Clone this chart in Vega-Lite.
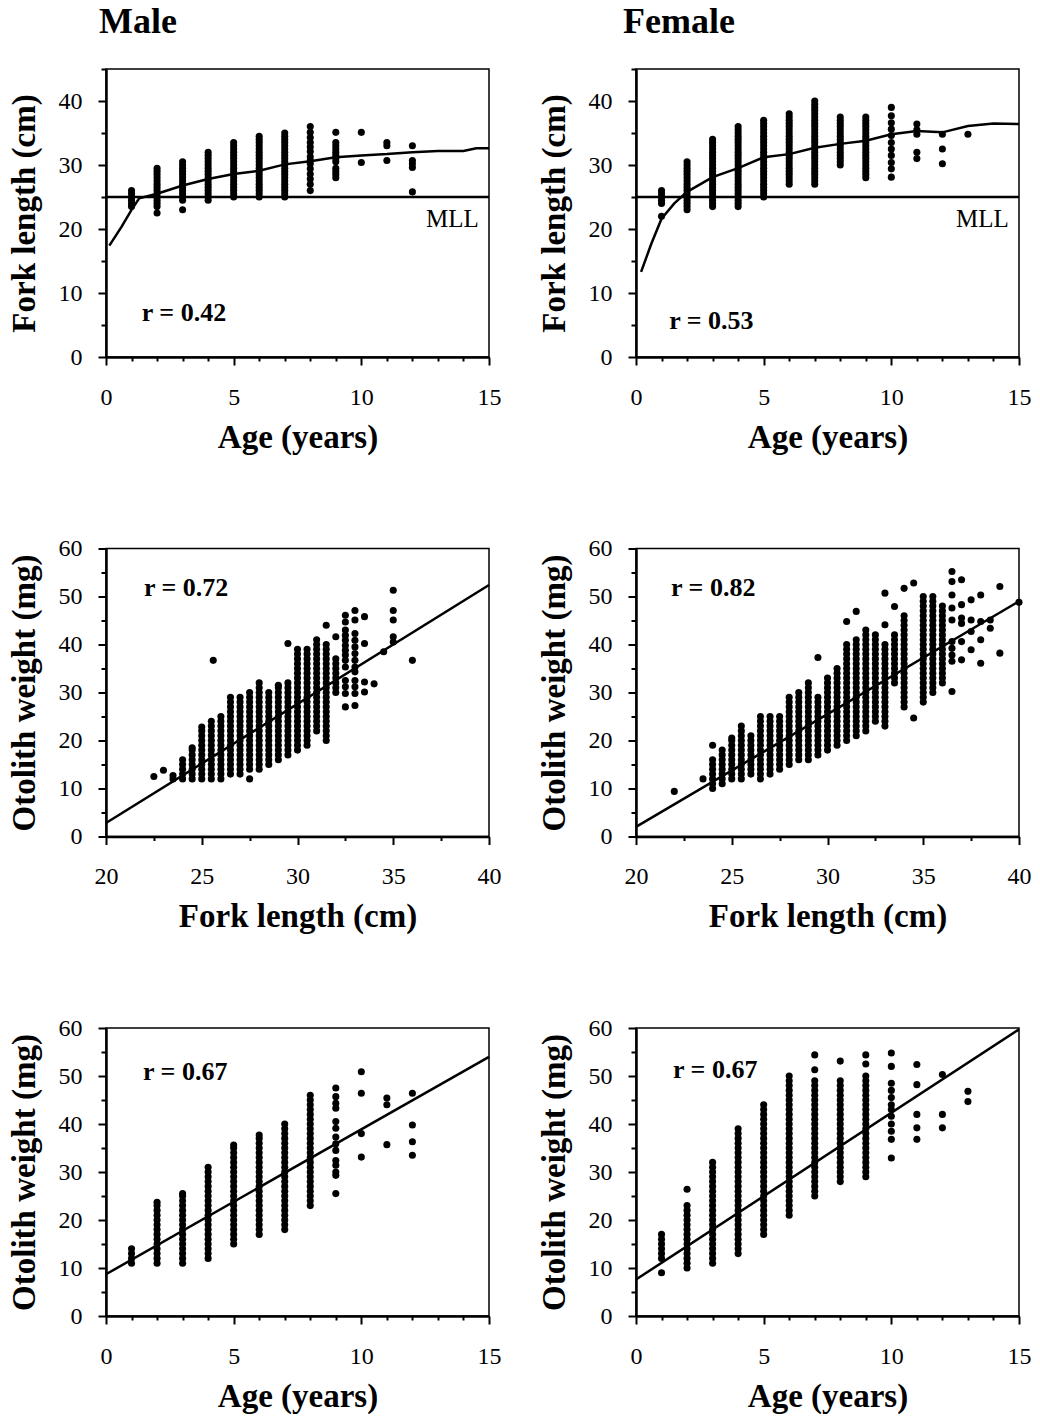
{
"$schema":"https://vega.github.io/schema/vega-lite/v6.json",
"background":"white",
"padding":{"left":7,"top":3,"right":5,"bottom":3},
"config":{
"font":"Liberation Serif",
"view":{"stroke":"black","strokeWidth":1.5},
"axis":{"domainColor":"black","domainWidth":2.5,"tickColor":"black","tickWidth":2,"labelColor":"black","labelFont":"Liberation Serif","labelFontSize":24,"titleColor":"black","titleFont":"Liberation Serif","titleFontSize":33,"titleFontWeight":"bold","grid":false,"labelFlush":false,"labelOverlap":false},
"axisX":{"labelPadding":20,"titlePadding":12},
"axisY":{"labelPadding":16,"titlePadding":17},
"title":{"font":"Liberation Serif","fontSize":36,"fontWeight":"bold","anchor":"start","frame":"group","color":"black","offset":27}
},
"columns":2,
"spacing":{"row":191.5,"column":147},
"bounds":"flush",
"datasets":{
"m1":[{"age":1,"fl":23.5},{"age":1,"fl":24},{"age":1,"fl":24.5},{"age":1,"fl":25},{"age":1,"fl":25.5},{"age":1,"fl":26},
{"age":2,"fl":22.5},{"age":2,"fl":23.5},{"age":2,"fl":24},{"age":2,"fl":24.5},{"age":2,"fl":25},{"age":2,"fl":25.5},{"age":2,"fl":26},{"age":2,"fl":26.5},{"age":2,"fl":27},{"age":2,"fl":27.5},{"age":2,"fl":28},{"age":2,"fl":28.5},{"age":2,"fl":29},{"age":2,"fl":29.5},
{"age":3,"fl":23},{"age":3,"fl":24.5},{"age":3,"fl":25},{"age":3,"fl":25.5},{"age":3,"fl":26},{"age":3,"fl":26.5},{"age":3,"fl":27},{"age":3,"fl":27.5},{"age":3,"fl":28},{"age":3,"fl":28.5},{"age":3,"fl":29},{"age":3,"fl":29.5},{"age":3,"fl":30},{"age":3,"fl":30.5},
{"age":4,"fl":24.5},{"age":4,"fl":25},{"age":4,"fl":25.5},{"age":4,"fl":26},{"age":4,"fl":26.5},{"age":4,"fl":27},{"age":4,"fl":27.5},{"age":4,"fl":28},{"age":4,"fl":28.5},{"age":4,"fl":29},{"age":4,"fl":29.5},{"age":4,"fl":30},{"age":4,"fl":30.5},{"age":4,"fl":31},{"age":4,"fl":31.5},{"age":4,"fl":32},
{"age":5,"fl":25},{"age":5,"fl":25.5},{"age":5,"fl":26},{"age":5,"fl":26.5},{"age":5,"fl":27},{"age":5,"fl":27.5},{"age":5,"fl":28},{"age":5,"fl":28.5},{"age":5,"fl":29},{"age":5,"fl":29.5},{"age":5,"fl":30},{"age":5,"fl":30.5},{"age":5,"fl":31},{"age":5,"fl":31.5},{"age":5,"fl":32},{"age":5,"fl":32.5},{"age":5,"fl":33},{"age":5,"fl":33.5},
{"age":6,"fl":25},{"age":6,"fl":25.5},{"age":6,"fl":26},{"age":6,"fl":26.5},{"age":6,"fl":27},{"age":6,"fl":27.5},{"age":6,"fl":28},{"age":6,"fl":28.5},{"age":6,"fl":29},{"age":6,"fl":29.5},{"age":6,"fl":30},{"age":6,"fl":30.5},{"age":6,"fl":31},{"age":6,"fl":31.5},{"age":6,"fl":32},{"age":6,"fl":32.5},{"age":6,"fl":33},{"age":6,"fl":33.5},{"age":6,"fl":34},{"age":6,"fl":34.5},
{"age":7,"fl":25},{"age":7,"fl":25.5},{"age":7,"fl":26},{"age":7,"fl":26.5},{"age":7,"fl":27},{"age":7,"fl":27.5},{"age":7,"fl":28},{"age":7,"fl":28.5},{"age":7,"fl":29},{"age":7,"fl":29.5},{"age":7,"fl":30},{"age":7,"fl":30.5},{"age":7,"fl":31},{"age":7,"fl":31.5},{"age":7,"fl":32},{"age":7,"fl":32.5},{"age":7,"fl":33},{"age":7,"fl":33.5},{"age":7,"fl":34},{"age":7,"fl":34.5},{"age":7,"fl":35},
{"age":8,"fl":26},{"age":8,"fl":27},{"age":8,"fl":27.8},{"age":8,"fl":28.6},{"age":8,"fl":29.4},{"age":8,"fl":30.2},{"age":8,"fl":30.7},{"age":8,"fl":31.3},{"age":8,"fl":32.1},{"age":8,"fl":32.8},{"age":8,"fl":33.5},{"age":8,"fl":34.3},{"age":8,"fl":35.1},{"age":8,"fl":36},
{"age":9,"fl":28},{"age":9,"fl":28.5},{"age":9,"fl":29},{"age":9,"fl":29.5},{"age":9,"fl":30.5},{"age":9,"fl":31},{"age":9,"fl":31.5},{"age":9,"fl":32},{"age":9,"fl":32.5},{"age":9,"fl":33},{"age":9,"fl":33.5},{"age":9,"fl":35.1},
{"age":10,"fl":30.4},{"age":10,"fl":35.1},
{"age":11,"fl":30.7},{"age":11,"fl":33},{"age":11,"fl":33.5},
{"age":12,"fl":25.8},{"age":12,"fl":29.6},{"age":12,"fl":30.2},{"age":12,"fl":30.7},{"age":12,"fl":33}],
"f1":[{"age":1,"fl":22},{"age":1,"fl":24},{"age":1,"fl":24.5},{"age":1,"fl":25},{"age":1,"fl":25.5},{"age":1,"fl":26},
{"age":2,"fl":23},{"age":2,"fl":23.5},{"age":2,"fl":24},{"age":2,"fl":24.5},{"age":2,"fl":25},{"age":2,"fl":25.5},{"age":2,"fl":26},{"age":2,"fl":26.5},{"age":2,"fl":27},{"age":2,"fl":27.5},{"age":2,"fl":28},{"age":2,"fl":28.5},{"age":2,"fl":29},{"age":2,"fl":29.5},{"age":2,"fl":30},{"age":2,"fl":30.5},
{"age":3,"fl":23.5},{"age":3,"fl":24},{"age":3,"fl":24.5},{"age":3,"fl":25},{"age":3,"fl":25.5},{"age":3,"fl":26},{"age":3,"fl":26.5},{"age":3,"fl":27},{"age":3,"fl":27.5},{"age":3,"fl":28},{"age":3,"fl":28.5},{"age":3,"fl":29},{"age":3,"fl":29.5},{"age":3,"fl":30},{"age":3,"fl":30.5},{"age":3,"fl":31},{"age":3,"fl":31.5},{"age":3,"fl":32},{"age":3,"fl":32.5},{"age":3,"fl":33},{"age":3,"fl":33.5},{"age":3,"fl":34},
{"age":4,"fl":23.5},{"age":4,"fl":24},{"age":4,"fl":24.5},{"age":4,"fl":25},{"age":4,"fl":25.5},{"age":4,"fl":26},{"age":4,"fl":26.5},{"age":4,"fl":27},{"age":4,"fl":27.5},{"age":4,"fl":28},{"age":4,"fl":28.5},{"age":4,"fl":29},{"age":4,"fl":29.5},{"age":4,"fl":30},{"age":4,"fl":30.5},{"age":4,"fl":31},{"age":4,"fl":31.5},{"age":4,"fl":32},{"age":4,"fl":32.5},{"age":4,"fl":33},{"age":4,"fl":33.5},{"age":4,"fl":34},{"age":4,"fl":34.5},{"age":4,"fl":35},{"age":4,"fl":35.5},{"age":4,"fl":36},
{"age":5,"fl":25},{"age":5,"fl":25.5},{"age":5,"fl":26},{"age":5,"fl":26.5},{"age":5,"fl":27},{"age":5,"fl":27.5},{"age":5,"fl":28},{"age":5,"fl":28.5},{"age":5,"fl":29},{"age":5,"fl":29.5},{"age":5,"fl":30},{"age":5,"fl":30.5},{"age":5,"fl":31},{"age":5,"fl":31.5},{"age":5,"fl":32},{"age":5,"fl":32.5},{"age":5,"fl":33},{"age":5,"fl":33.5},{"age":5,"fl":34},{"age":5,"fl":34.5},{"age":5,"fl":35},{"age":5,"fl":35.5},{"age":5,"fl":36},{"age":5,"fl":36.5},{"age":5,"fl":37},
{"age":6,"fl":27},{"age":6,"fl":27.5},{"age":6,"fl":28},{"age":6,"fl":28.5},{"age":6,"fl":29},{"age":6,"fl":29.5},{"age":6,"fl":30},{"age":6,"fl":30.5},{"age":6,"fl":31},{"age":6,"fl":31.5},{"age":6,"fl":32},{"age":6,"fl":32.5},{"age":6,"fl":33},{"age":6,"fl":33.5},{"age":6,"fl":34},{"age":6,"fl":34.5},{"age":6,"fl":35},{"age":6,"fl":35.5},{"age":6,"fl":36},{"age":6,"fl":36.5},{"age":6,"fl":37},{"age":6,"fl":37.5},{"age":6,"fl":38},
{"age":7,"fl":27},{"age":7,"fl":27.5},{"age":7,"fl":28},{"age":7,"fl":28.5},{"age":7,"fl":29},{"age":7,"fl":29.5},{"age":7,"fl":30},{"age":7,"fl":30.5},{"age":7,"fl":31},{"age":7,"fl":31.5},{"age":7,"fl":32},{"age":7,"fl":32.5},{"age":7,"fl":33},{"age":7,"fl":33.5},{"age":7,"fl":34},{"age":7,"fl":34.5},{"age":7,"fl":35},{"age":7,"fl":35.5},{"age":7,"fl":36},{"age":7,"fl":36.5},{"age":7,"fl":37},{"age":7,"fl":37.5},{"age":7,"fl":38},{"age":7,"fl":38.5},{"age":7,"fl":39},{"age":7,"fl":39.5},{"age":7,"fl":40},
{"age":8,"fl":30},{"age":8,"fl":30.5},{"age":8,"fl":31},{"age":8,"fl":31.5},{"age":8,"fl":32},{"age":8,"fl":32.5},{"age":8,"fl":33},{"age":8,"fl":33.5},{"age":8,"fl":34},{"age":8,"fl":34.5},{"age":8,"fl":35},{"age":8,"fl":35.5},{"age":8,"fl":36},{"age":8,"fl":36.5},{"age":8,"fl":37},{"age":8,"fl":37.5},
{"age":9,"fl":28},{"age":9,"fl":28.5},{"age":9,"fl":29},{"age":9,"fl":29.5},{"age":9,"fl":30},{"age":9,"fl":30.5},{"age":9,"fl":31},{"age":9,"fl":31.5},{"age":9,"fl":32},{"age":9,"fl":32.5},{"age":9,"fl":33},{"age":9,"fl":33.5},{"age":9,"fl":34},{"age":9,"fl":34.5},{"age":9,"fl":35},{"age":9,"fl":35.5},{"age":9,"fl":36},{"age":9,"fl":36.5},{"age":9,"fl":37},{"age":9,"fl":37.5},
{"age":10,"fl":28.1},{"age":10,"fl":29.4},{"age":10,"fl":30.4},{"age":10,"fl":31.5},{"age":10,"fl":32.5},{"age":10,"fl":33.5},{"age":10,"fl":34.6},{"age":10,"fl":35.6},{"age":10,"fl":36.6},{"age":10,"fl":37.7},{"age":10,"fl":39},
{"age":11,"fl":31},{"age":11,"fl":32},{"age":11,"fl":34.8},{"age":11,"fl":35.5},{"age":11,"fl":36.4},
{"age":12,"fl":30.2},{"age":12,"fl":32.5},{"age":12,"fl":34.8},
{"age":13,"fl":34.8}],
"mc":[{"age":0.13,"fl":17.4},{"age":0.6,"fl":20.3},{"age":1,"fl":23},{"age":1.3,"fl":24.8},{"age":2,"fl":25.5},{"age":3,"fl":26.8},{"age":4,"fl":27.8},{"age":5,"fl":28.6},{"age":6,"fl":29.1},{"age":7,"fl":30.1},{"age":8,"fl":30.6},{"age":9,"fl":31.2},{"age":10,"fl":31.5},{"age":11,"fl":31.7},{"age":12,"fl":32},{"age":13,"fl":32.2},{"age":14,"fl":32.2},{"age":14.5,"fl":32.6},{"age":15,"fl":32.6}],
"fc":[{"age":0.2,"fl":13.3},{"age":0.6,"fl":17.7},{"age":1,"fl":21.6},{"age":1.5,"fl":24},{"age":2,"fl":25.8},{"age":3,"fl":28.1},{"age":4,"fl":29.5},{"age":5,"fl":31.2},{"age":6,"fl":31.7},{"age":7,"fl":32.7},{"age":8,"fl":33.3},{"age":9,"fl":33.8},{"age":10,"fl":34.8},{"age":11,"fl":35.3},{"age":12,"fl":35.1},{"age":13,"fl":36.1},{"age":14,"fl":36.5},{"age":15,"fl":36.4}],
"m2":[{"fl":22.5,"ow":12.5},{"fl":23,"ow":13.8},{"fl":23.5,"ow":12},{"fl":23.5,"ow":12.7},
{"fl":24,"ow":12},{"fl":24,"ow":13},{"fl":24,"ow":14},{"fl":24,"ow":15},{"fl":24,"ow":16},
{"fl":24.5,"ow":12},{"fl":24.5,"ow":13},{"fl":24.5,"ow":14},{"fl":24.5,"ow":15},{"fl":24.5,"ow":16},{"fl":24.5,"ow":17},{"fl":24.5,"ow":18},{"fl":24.5,"ow":18.5},
{"fl":25,"ow":12},{"fl":25,"ow":13},{"fl":25,"ow":14},{"fl":25,"ow":15},{"fl":25,"ow":16},{"fl":25,"ow":17},{"fl":25,"ow":18},{"fl":25,"ow":19},{"fl":25,"ow":20},{"fl":25,"ow":21},{"fl":25,"ow":22},{"fl":25,"ow":22.8},
{"fl":25.5,"ow":12},{"fl":25.5,"ow":13},{"fl":25.5,"ow":14},{"fl":25.5,"ow":15},{"fl":25.5,"ow":16},{"fl":25.5,"ow":17},{"fl":25.5,"ow":18},{"fl":25.5,"ow":19},{"fl":25.5,"ow":20},{"fl":25.5,"ow":21},{"fl":25.5,"ow":22},{"fl":25.5,"ow":23},{"fl":25.5,"ow":24},{"fl":25.6,"ow":36.7},
{"fl":26,"ow":12},{"fl":26,"ow":13},{"fl":26,"ow":14},{"fl":26,"ow":15},{"fl":26,"ow":16},{"fl":26,"ow":17},{"fl":26,"ow":18},{"fl":26,"ow":19},{"fl":26,"ow":20},{"fl":26,"ow":21},{"fl":26,"ow":22},{"fl":26,"ow":23},{"fl":26,"ow":24},{"fl":26,"ow":25},
{"fl":26.5,"ow":13},{"fl":26.5,"ow":14},{"fl":26.5,"ow":15},{"fl":26.5,"ow":16},{"fl":26.5,"ow":17},{"fl":26.5,"ow":18},{"fl":26.5,"ow":19},{"fl":26.5,"ow":20},{"fl":26.5,"ow":21},{"fl":26.5,"ow":22},{"fl":26.5,"ow":23},{"fl":26.5,"ow":24},{"fl":26.5,"ow":25},{"fl":26.5,"ow":26},{"fl":26.5,"ow":27},{"fl":26.5,"ow":28},{"fl":26.5,"ow":29},
{"fl":27,"ow":13},{"fl":27,"ow":14},{"fl":27,"ow":15},{"fl":27,"ow":16},{"fl":27,"ow":17},{"fl":27,"ow":18},{"fl":27,"ow":19},{"fl":27,"ow":20},{"fl":27,"ow":21},{"fl":27,"ow":22},{"fl":27,"ow":23},{"fl":27,"ow":24},{"fl":27,"ow":25},{"fl":27,"ow":26},{"fl":27,"ow":27},{"fl":27,"ow":28},{"fl":27,"ow":29},
{"fl":27.5,"ow":12},{"fl":27.5,"ow":14},{"fl":27.5,"ow":15},{"fl":27.5,"ow":16},{"fl":27.5,"ow":17},{"fl":27.5,"ow":18},{"fl":27.5,"ow":19},{"fl":27.5,"ow":20},{"fl":27.5,"ow":21},{"fl":27.5,"ow":22},{"fl":27.5,"ow":23},{"fl":27.5,"ow":24},{"fl":27.5,"ow":25},{"fl":27.5,"ow":26},{"fl":27.5,"ow":27},{"fl":27.5,"ow":28},{"fl":27.5,"ow":29},{"fl":27.5,"ow":30},
{"fl":28,"ow":14},{"fl":28,"ow":15},{"fl":28,"ow":16},{"fl":28,"ow":17},{"fl":28,"ow":18},{"fl":28,"ow":19},{"fl":28,"ow":20},{"fl":28,"ow":21},{"fl":28,"ow":22},{"fl":28,"ow":23},{"fl":28,"ow":24},{"fl":28,"ow":25},{"fl":28,"ow":26},{"fl":28,"ow":27},{"fl":28,"ow":28},{"fl":28,"ow":29},{"fl":28,"ow":30},{"fl":28,"ow":31},{"fl":28,"ow":32},
{"fl":28.5,"ow":15},{"fl":28.5,"ow":16},{"fl":28.5,"ow":17},{"fl":28.5,"ow":18},{"fl":28.5,"ow":19},{"fl":28.5,"ow":20},{"fl":28.5,"ow":21},{"fl":28.5,"ow":22},{"fl":28.5,"ow":23},{"fl":28.5,"ow":24},{"fl":28.5,"ow":25},{"fl":28.5,"ow":26},{"fl":28.5,"ow":27},{"fl":28.5,"ow":28},{"fl":28.5,"ow":29},{"fl":28.5,"ow":30},
{"fl":29,"ow":16},{"fl":29,"ow":17},{"fl":29,"ow":18},{"fl":29,"ow":19},{"fl":29,"ow":20},{"fl":29,"ow":21},{"fl":29,"ow":22},{"fl":29,"ow":23},{"fl":29,"ow":24},{"fl":29,"ow":25},{"fl":29,"ow":26},{"fl":29,"ow":27},{"fl":29,"ow":28},{"fl":29,"ow":29},{"fl":29,"ow":30},{"fl":29,"ow":31},{"fl":29,"ow":31.5},
{"fl":29.5,"ow":17},{"fl":29.5,"ow":18},{"fl":29.5,"ow":19},{"fl":29.5,"ow":20},{"fl":29.5,"ow":21},{"fl":29.5,"ow":22},{"fl":29.5,"ow":23},{"fl":29.5,"ow":24},{"fl":29.5,"ow":25},{"fl":29.5,"ow":26},{"fl":29.5,"ow":27},{"fl":29.5,"ow":28},{"fl":29.5,"ow":29},{"fl":29.5,"ow":30},{"fl":29.5,"ow":31},{"fl":29.5,"ow":32},{"fl":29.5,"ow":40.2},
{"fl":30,"ow":18},{"fl":30,"ow":19},{"fl":30,"ow":20},{"fl":30,"ow":21},{"fl":30,"ow":22},{"fl":30,"ow":23},{"fl":30,"ow":24},{"fl":30,"ow":25},{"fl":30,"ow":26},{"fl":30,"ow":27},{"fl":30,"ow":28},{"fl":30,"ow":29},{"fl":30,"ow":30},{"fl":30,"ow":31},{"fl":30,"ow":32},{"fl":30,"ow":33},{"fl":30,"ow":34},{"fl":30,"ow":35},{"fl":30,"ow":36},{"fl":30,"ow":37},{"fl":30,"ow":38},{"fl":30,"ow":39},
{"fl":30.5,"ow":19},{"fl":30.5,"ow":20},{"fl":30.5,"ow":21},{"fl":30.5,"ow":22},{"fl":30.5,"ow":23},{"fl":30.5,"ow":24},{"fl":30.5,"ow":25},{"fl":30.5,"ow":26},{"fl":30.5,"ow":27},{"fl":30.5,"ow":28},{"fl":30.5,"ow":29},{"fl":30.5,"ow":30},{"fl":30.5,"ow":31},{"fl":30.5,"ow":32},{"fl":30.5,"ow":33},{"fl":30.5,"ow":34},{"fl":30.5,"ow":35},{"fl":30.5,"ow":36},{"fl":30.5,"ow":37},{"fl":30.5,"ow":38},{"fl":30.5,"ow":39},
{"fl":31,"ow":22},{"fl":31,"ow":23},{"fl":31,"ow":24},{"fl":31,"ow":25},{"fl":31,"ow":26},{"fl":31,"ow":27},{"fl":31,"ow":28},{"fl":31,"ow":29},{"fl":31,"ow":30},{"fl":31,"ow":31},{"fl":31,"ow":32},{"fl":31,"ow":33},{"fl":31,"ow":34},{"fl":31,"ow":35},{"fl":31,"ow":36},{"fl":31,"ow":37},{"fl":31,"ow":38},{"fl":31,"ow":39},{"fl":31,"ow":40},{"fl":31,"ow":41},
{"fl":31.5,"ow":20},{"fl":31.5,"ow":21},{"fl":31.5,"ow":22},{"fl":31.5,"ow":23},{"fl":31.5,"ow":24},{"fl":31.5,"ow":25},{"fl":31.5,"ow":26},{"fl":31.5,"ow":27},{"fl":31.5,"ow":28},{"fl":31.5,"ow":29},{"fl":31.5,"ow":30},{"fl":31.5,"ow":31},{"fl":31.5,"ow":32},{"fl":31.5,"ow":33},{"fl":31.5,"ow":34},{"fl":31.5,"ow":35},{"fl":31.5,"ow":36},{"fl":31.5,"ow":37},{"fl":31.5,"ow":38},{"fl":31.5,"ow":39},{"fl":31.5,"ow":40},{"fl":31.5,"ow":44},
{"fl":32,"ow":30},{"fl":32,"ow":31},{"fl":32,"ow":32},{"fl":32,"ow":33},{"fl":32,"ow":34},{"fl":32,"ow":35},{"fl":32,"ow":36},{"fl":32,"ow":37},{"fl":32,"ow":41.6},
{"fl":32.5,"ow":27},{"fl":32.5,"ow":29.8},{"fl":32.5,"ow":31.2},{"fl":32.5,"ow":32.5},{"fl":32.5,"ow":35.3},{"fl":32.5,"ow":36.7},{"fl":32.5,"ow":37.8},{"fl":32.5,"ow":38.8},{"fl":32.5,"ow":39.8},{"fl":32.5,"ow":40.9},{"fl":32.5,"ow":41.9},{"fl":32.5,"ow":43},{"fl":32.5,"ow":44.7},{"fl":32.5,"ow":46.1},
{"fl":33,"ow":27.3},{"fl":33,"ow":29.8},{"fl":33,"ow":31.2},{"fl":33,"ow":32.5},{"fl":33,"ow":34.3},{"fl":33,"ow":35.3},{"fl":33,"ow":36.7},{"fl":33,"ow":38.1},{"fl":33,"ow":39.5},{"fl":33,"ow":40.9},{"fl":33,"ow":42.3},{"fl":33,"ow":45.1},{"fl":33,"ow":47.1},
{"fl":33.5,"ow":30.1},{"fl":33.5,"ow":32.2},{"fl":33.5,"ow":40.2},{"fl":33.5,"ow":45.8},
{"fl":34,"ow":31.8},{"fl":34.5,"ow":38.5},
{"fl":35,"ow":40.5},{"fl":35,"ow":41.6},{"fl":35,"ow":45.1},{"fl":35,"ow":47.1},{"fl":35,"ow":51.3},
{"fl":36,"ow":36.7}],
"f2":[{"fl":22,"ow":9.4},{"fl":23.5,"ow":12},
{"fl":24,"ow":10},{"fl":24,"ow":11},{"fl":24,"ow":12},{"fl":24,"ow":13},{"fl":24,"ow":14},{"fl":24,"ow":15},{"fl":24,"ow":16},{"fl":24,"ow":19},
{"fl":24.5,"ow":11},{"fl":24.5,"ow":12},{"fl":24.5,"ow":13},{"fl":24.5,"ow":14},{"fl":24.5,"ow":15},{"fl":24.5,"ow":16},{"fl":24.5,"ow":17},{"fl":24.5,"ow":18},
{"fl":25,"ow":12},{"fl":25,"ow":13},{"fl":25,"ow":14},{"fl":25,"ow":15},{"fl":25,"ow":16},{"fl":25,"ow":17},{"fl":25,"ow":18},{"fl":25,"ow":19},{"fl":25,"ow":20},{"fl":25,"ow":20.5},
{"fl":25.5,"ow":12},{"fl":25.5,"ow":13},{"fl":25.5,"ow":14},{"fl":25.5,"ow":15},{"fl":25.5,"ow":16},{"fl":25.5,"ow":17},{"fl":25.5,"ow":18},{"fl":25.5,"ow":19},{"fl":25.5,"ow":20},{"fl":25.5,"ow":21},{"fl":25.5,"ow":22},{"fl":25.5,"ow":23},
{"fl":26,"ow":13},{"fl":26,"ow":14},{"fl":26,"ow":15},{"fl":26,"ow":16},{"fl":26,"ow":17},{"fl":26,"ow":18},{"fl":26,"ow":19},{"fl":26,"ow":20},{"fl":26,"ow":21},
{"fl":26.5,"ow":12},{"fl":26.5,"ow":13},{"fl":26.5,"ow":14},{"fl":26.5,"ow":15},{"fl":26.5,"ow":16},{"fl":26.5,"ow":17},{"fl":26.5,"ow":18},{"fl":26.5,"ow":19},{"fl":26.5,"ow":20},{"fl":26.5,"ow":21},{"fl":26.5,"ow":22},{"fl":26.5,"ow":23},{"fl":26.5,"ow":24},{"fl":26.5,"ow":25},
{"fl":27,"ow":13},{"fl":27,"ow":14},{"fl":27,"ow":15},{"fl":27,"ow":16},{"fl":27,"ow":17},{"fl":27,"ow":18},{"fl":27,"ow":19},{"fl":27,"ow":20},{"fl":27,"ow":21},{"fl":27,"ow":22},{"fl":27,"ow":23},{"fl":27,"ow":24},{"fl":27,"ow":25},
{"fl":27.5,"ow":14},{"fl":27.5,"ow":15},{"fl":27.5,"ow":16},{"fl":27.5,"ow":17},{"fl":27.5,"ow":18},{"fl":27.5,"ow":19},{"fl":27.5,"ow":20},{"fl":27.5,"ow":21},{"fl":27.5,"ow":22},{"fl":27.5,"ow":23},{"fl":27.5,"ow":24},{"fl":27.5,"ow":25},
{"fl":28,"ow":15},{"fl":28,"ow":16},{"fl":28,"ow":17},{"fl":28,"ow":18},{"fl":28,"ow":19},{"fl":28,"ow":20},{"fl":28,"ow":21},{"fl":28,"ow":22},{"fl":28,"ow":23},{"fl":28,"ow":24},{"fl":28,"ow":25},{"fl":28,"ow":26},{"fl":28,"ow":27},{"fl":28,"ow":28},{"fl":28,"ow":29},
{"fl":28.5,"ow":16},{"fl":28.5,"ow":17},{"fl":28.5,"ow":18},{"fl":28.5,"ow":19},{"fl":28.5,"ow":20},{"fl":28.5,"ow":21},{"fl":28.5,"ow":22},{"fl":28.5,"ow":23},{"fl":28.5,"ow":24},{"fl":28.5,"ow":25},{"fl":28.5,"ow":26},{"fl":28.5,"ow":27},{"fl":28.5,"ow":28},{"fl":28.5,"ow":29},{"fl":28.5,"ow":30},
{"fl":29,"ow":16},{"fl":29,"ow":17},{"fl":29,"ow":18},{"fl":29,"ow":19},{"fl":29,"ow":20},{"fl":29,"ow":21},{"fl":29,"ow":22},{"fl":29,"ow":23},{"fl":29,"ow":24},{"fl":29,"ow":25},{"fl":29,"ow":26},{"fl":29,"ow":27},{"fl":29,"ow":28},{"fl":29,"ow":29},{"fl":29,"ow":30},{"fl":29,"ow":31},{"fl":29,"ow":32},
{"fl":29.5,"ow":17},{"fl":29.5,"ow":18},{"fl":29.5,"ow":19},{"fl":29.5,"ow":20},{"fl":29.5,"ow":21},{"fl":29.5,"ow":22},{"fl":29.5,"ow":23},{"fl":29.5,"ow":24},{"fl":29.5,"ow":25},{"fl":29.5,"ow":26},{"fl":29.5,"ow":27},{"fl":29.5,"ow":28},{"fl":29.5,"ow":29},{"fl":29.5,"ow":37.3},
{"fl":30,"ow":18},{"fl":30,"ow":19},{"fl":30,"ow":20},{"fl":30,"ow":21},{"fl":30,"ow":22},{"fl":30,"ow":23},{"fl":30,"ow":24},{"fl":30,"ow":25},{"fl":30,"ow":26},{"fl":30,"ow":27},{"fl":30,"ow":28},{"fl":30,"ow":29},{"fl":30,"ow":30},{"fl":30,"ow":31},{"fl":30,"ow":32},{"fl":30,"ow":33},
{"fl":30.5,"ow":19},{"fl":30.5,"ow":20},{"fl":30.5,"ow":21},{"fl":30.5,"ow":22},{"fl":30.5,"ow":23},{"fl":30.5,"ow":24},{"fl":30.5,"ow":25},{"fl":30.5,"ow":26},{"fl":30.5,"ow":27},{"fl":30.5,"ow":28},{"fl":30.5,"ow":29},{"fl":30.5,"ow":30},{"fl":30.5,"ow":31},{"fl":30.5,"ow":32},{"fl":30.5,"ow":33},{"fl":30.5,"ow":34},{"fl":30.5,"ow":35},
{"fl":31,"ow":20},{"fl":31,"ow":21},{"fl":31,"ow":22},{"fl":31,"ow":23},{"fl":31,"ow":24},{"fl":31,"ow":25},{"fl":31,"ow":26},{"fl":31,"ow":27},{"fl":31,"ow":28},{"fl":31,"ow":29},{"fl":31,"ow":30},{"fl":31,"ow":31},{"fl":31,"ow":32},{"fl":31,"ow":33},{"fl":31,"ow":34},{"fl":31,"ow":35},{"fl":31,"ow":36},{"fl":31,"ow":37},{"fl":31,"ow":38},{"fl":31,"ow":39},{"fl":31,"ow":40},{"fl":31,"ow":44.8},
{"fl":31.5,"ow":21},{"fl":31.5,"ow":22},{"fl":31.5,"ow":23},{"fl":31.5,"ow":24},{"fl":31.5,"ow":25},{"fl":31.5,"ow":26},{"fl":31.5,"ow":27},{"fl":31.5,"ow":28},{"fl":31.5,"ow":29},{"fl":31.5,"ow":30},{"fl":31.5,"ow":31},{"fl":31.5,"ow":32},{"fl":31.5,"ow":33},{"fl":31.5,"ow":34},{"fl":31.5,"ow":35},{"fl":31.5,"ow":36},{"fl":31.5,"ow":37},{"fl":31.5,"ow":38},{"fl":31.5,"ow":39},{"fl":31.5,"ow":40},{"fl":31.5,"ow":41},{"fl":31.5,"ow":46.9},
{"fl":32,"ow":22},{"fl":32,"ow":23},{"fl":32,"ow":24},{"fl":32,"ow":25},{"fl":32,"ow":26},{"fl":32,"ow":27},{"fl":32,"ow":28},{"fl":32,"ow":29},{"fl":32,"ow":30},{"fl":32,"ow":31},{"fl":32,"ow":32},{"fl":32,"ow":33},{"fl":32,"ow":34},{"fl":32,"ow":35},{"fl":32,"ow":36},{"fl":32,"ow":37},{"fl":32,"ow":38},{"fl":32,"ow":39},{"fl":32,"ow":40},{"fl":32,"ow":41},{"fl":32,"ow":42},{"fl":32,"ow":43},
{"fl":32.5,"ow":24},{"fl":32.5,"ow":25},{"fl":32.5,"ow":26},{"fl":32.5,"ow":27},{"fl":32.5,"ow":28},{"fl":32.5,"ow":29},{"fl":32.5,"ow":30},{"fl":32.5,"ow":31},{"fl":32.5,"ow":32},{"fl":32.5,"ow":33},{"fl":32.5,"ow":34},{"fl":32.5,"ow":35},{"fl":32.5,"ow":36},{"fl":32.5,"ow":37},{"fl":32.5,"ow":38},{"fl":32.5,"ow":39},{"fl":32.5,"ow":40},{"fl":32.5,"ow":41},{"fl":32.5,"ow":42},
{"fl":33,"ow":23},{"fl":33,"ow":24},{"fl":33,"ow":25},{"fl":33,"ow":26},{"fl":33,"ow":27},{"fl":33,"ow":28},{"fl":33,"ow":29},{"fl":33,"ow":30},{"fl":33,"ow":31},{"fl":33,"ow":32},{"fl":33,"ow":33},{"fl":33,"ow":34},{"fl":33,"ow":35},{"fl":33,"ow":36},{"fl":33,"ow":37},{"fl":33,"ow":38},{"fl":33,"ow":39},{"fl":33,"ow":40},{"fl":33,"ow":44.1},{"fl":33,"ow":50.7},
{"fl":33.5,"ow":32},{"fl":33.5,"ow":33},{"fl":33.5,"ow":34},{"fl":33.5,"ow":35},{"fl":33.5,"ow":36},{"fl":33.5,"ow":37},{"fl":33.5,"ow":38},{"fl":33.5,"ow":39},{"fl":33.5,"ow":40},{"fl":33.5,"ow":41},{"fl":33.5,"ow":42},{"fl":33.5,"ow":47.9},
{"fl":34,"ow":27},{"fl":34,"ow":28},{"fl":34,"ow":29},{"fl":34,"ow":30},{"fl":34,"ow":31},{"fl":34,"ow":32},{"fl":34,"ow":33},{"fl":34,"ow":34},{"fl":34,"ow":35},{"fl":34,"ow":36},{"fl":34,"ow":37},{"fl":34,"ow":38},{"fl":34,"ow":39},{"fl":34,"ow":40},{"fl":34,"ow":41},{"fl":34,"ow":42},{"fl":34,"ow":43},{"fl":34,"ow":44},{"fl":34,"ow":45},{"fl":34,"ow":46},{"fl":34,"ow":51.7},
{"fl":34.5,"ow":24.7},{"fl":34.5,"ow":52.8},
{"fl":35,"ow":28},{"fl":35,"ow":29},{"fl":35,"ow":30},{"fl":35,"ow":31},{"fl":35,"ow":32},{"fl":35,"ow":33},{"fl":35,"ow":34},{"fl":35,"ow":35},{"fl":35,"ow":36},{"fl":35,"ow":37},{"fl":35,"ow":38},{"fl":35,"ow":39},{"fl":35,"ow":40},{"fl":35,"ow":41},{"fl":35,"ow":42},{"fl":35,"ow":43},{"fl":35,"ow":44},{"fl":35,"ow":45},{"fl":35,"ow":46},{"fl":35,"ow":47},{"fl":35,"ow":48},{"fl":35,"ow":49},{"fl":35,"ow":50},
{"fl":35.5,"ow":30},{"fl":35.5,"ow":31},{"fl":35.5,"ow":32},{"fl":35.5,"ow":33},{"fl":35.5,"ow":34},{"fl":35.5,"ow":35},{"fl":35.5,"ow":36},{"fl":35.5,"ow":37},{"fl":35.5,"ow":38},{"fl":35.5,"ow":39},{"fl":35.5,"ow":40},{"fl":35.5,"ow":41},{"fl":35.5,"ow":42},{"fl":35.5,"ow":43},{"fl":35.5,"ow":44},{"fl":35.5,"ow":45},{"fl":35.5,"ow":46},{"fl":35.5,"ow":47},{"fl":35.5,"ow":48},{"fl":35.5,"ow":49},{"fl":35.5,"ow":50},
{"fl":36,"ow":32},{"fl":36,"ow":33},{"fl":36,"ow":34},{"fl":36,"ow":35},{"fl":36,"ow":36},{"fl":36,"ow":37},{"fl":36,"ow":38},{"fl":36,"ow":39},{"fl":36,"ow":40},{"fl":36,"ow":41},{"fl":36,"ow":42},{"fl":36,"ow":43},{"fl":36,"ow":44},{"fl":36,"ow":45},{"fl":36,"ow":46},{"fl":36,"ow":47},{"fl":36,"ow":48},
{"fl":36.5,"ow":30.2},{"fl":36.5,"ow":36.5},{"fl":36.5,"ow":37.8},{"fl":36.5,"ow":39.2},{"fl":36.5,"ow":40.6},{"fl":36.5,"ow":45.1},{"fl":36.5,"ow":47.6},{"fl":36.5,"ow":50.3},{"fl":36.5,"ow":53.1},{"fl":36.5,"ow":55.2},
{"fl":37,"ow":36.8},{"fl":37,"ow":40.6},{"fl":37,"ow":44.4},{"fl":37,"ow":45.5},{"fl":37,"ow":48.3},{"fl":37,"ow":53.5},
{"fl":37.5,"ow":38.9},{"fl":37.5,"ow":42.7},{"fl":37.5,"ow":45.1},{"fl":37.5,"ow":49.3},
{"fl":38,"ow":36.1},{"fl":38,"ow":41},{"fl":38,"ow":44.8},{"fl":38,"ow":50.3},
{"fl":38.5,"ow":43.4},{"fl":38.5,"ow":45.1},
{"fl":39,"ow":38.2},{"fl":39,"ow":52.1},
{"fl":40,"ow":48.8}],
"m3":[{"age":1,"ow":11},{"age":1,"ow":12},{"age":1,"ow":13},{"age":1,"ow":14},
{"age":2,"ow":11},{"age":2,"ow":12},{"age":2,"ow":13},{"age":2,"ow":14},{"age":2,"ow":15},{"age":2,"ow":16},{"age":2,"ow":17},{"age":2,"ow":18},{"age":2,"ow":19},{"age":2,"ow":20},{"age":2,"ow":21},{"age":2,"ow":22},{"age":2,"ow":23},{"age":2,"ow":23.7},
{"age":3,"ow":11},{"age":3,"ow":12},{"age":3,"ow":13},{"age":3,"ow":14},{"age":3,"ow":15},{"age":3,"ow":16},{"age":3,"ow":17},{"age":3,"ow":18},{"age":3,"ow":19},{"age":3,"ow":20},{"age":3,"ow":21},{"age":3,"ow":22},{"age":3,"ow":23},{"age":3,"ow":24},{"age":3,"ow":25},{"age":3,"ow":25.5},
{"age":4,"ow":12},{"age":4,"ow":13},{"age":4,"ow":14},{"age":4,"ow":15},{"age":4,"ow":16},{"age":4,"ow":17},{"age":4,"ow":18},{"age":4,"ow":19},{"age":4,"ow":20},{"age":4,"ow":21},{"age":4,"ow":22},{"age":4,"ow":23},{"age":4,"ow":24},{"age":4,"ow":25},{"age":4,"ow":26},{"age":4,"ow":27},{"age":4,"ow":28},{"age":4,"ow":29},{"age":4,"ow":30},{"age":4,"ow":31},
{"age":5,"ow":15},{"age":5,"ow":16},{"age":5,"ow":17},{"age":5,"ow":18},{"age":5,"ow":19},{"age":5,"ow":20},{"age":5,"ow":21},{"age":5,"ow":22},{"age":5,"ow":23},{"age":5,"ow":24},{"age":5,"ow":25},{"age":5,"ow":26},{"age":5,"ow":27},{"age":5,"ow":28},{"age":5,"ow":29},{"age":5,"ow":30},{"age":5,"ow":31},{"age":5,"ow":32},{"age":5,"ow":33},{"age":5,"ow":34},{"age":5,"ow":35},{"age":5,"ow":35.6},
{"age":6,"ow":17},{"age":6,"ow":18},{"age":6,"ow":19},{"age":6,"ow":20},{"age":6,"ow":21},{"age":6,"ow":22},{"age":6,"ow":23},{"age":6,"ow":24},{"age":6,"ow":25},{"age":6,"ow":26},{"age":6,"ow":27},{"age":6,"ow":28},{"age":6,"ow":29},{"age":6,"ow":30},{"age":6,"ow":31},{"age":6,"ow":32},{"age":6,"ow":33},{"age":6,"ow":34},{"age":6,"ow":35},{"age":6,"ow":36},{"age":6,"ow":37},{"age":6,"ow":37.7},
{"age":7,"ow":18},{"age":7,"ow":19},{"age":7,"ow":20},{"age":7,"ow":21},{"age":7,"ow":22},{"age":7,"ow":23},{"age":7,"ow":24},{"age":7,"ow":25},{"age":7,"ow":26},{"age":7,"ow":27},{"age":7,"ow":28},{"age":7,"ow":29},{"age":7,"ow":30},{"age":7,"ow":31},{"age":7,"ow":32},{"age":7,"ow":33},{"age":7,"ow":34},{"age":7,"ow":35},{"age":7,"ow":36},{"age":7,"ow":37},{"age":7,"ow":38},{"age":7,"ow":39},{"age":7,"ow":40},
{"age":8,"ow":23},{"age":8,"ow":24},{"age":8,"ow":25},{"age":8,"ow":26},{"age":8,"ow":27},{"age":8,"ow":28},{"age":8,"ow":29},{"age":8,"ow":30},{"age":8,"ow":31},{"age":8,"ow":32},{"age":8,"ow":33},{"age":8,"ow":34},{"age":8,"ow":35},{"age":8,"ow":36},{"age":8,"ow":37},{"age":8,"ow":38},{"age":8,"ow":39},{"age":8,"ow":40},{"age":8,"ow":41},{"age":8,"ow":42},{"age":8,"ow":43},{"age":8,"ow":44},{"age":8,"ow":45},{"age":8,"ow":46},
{"age":9,"ow":25.5},{"age":9,"ow":29.3},{"age":9,"ow":30},{"age":9,"ow":31.4},{"age":9,"ow":32.4},{"age":9,"ow":34.5},{"age":9,"ow":35.9},{"age":9,"ow":37.3},{"age":9,"ow":39.1},{"age":9,"ow":40.5},{"age":9,"ow":43.3},{"age":9,"ow":44.3},{"age":9,"ow":45.7},{"age":9,"ow":47.5},
{"age":10,"ow":33.1},{"age":10,"ow":38},{"age":10,"ow":46.4},{"age":10,"ow":50.9},
{"age":11,"ow":35.7},{"age":11,"ow":44},{"age":11,"ow":45.4},
{"age":12,"ow":33.5},{"age":12,"ow":36.3},{"age":12,"ow":39.8},{"age":12,"ow":46.4}],
"f3":[{"age":1,"ow":9},{"age":1,"ow":12},{"age":1,"ow":13},{"age":1,"ow":14},{"age":1,"ow":15},{"age":1,"ow":16},{"age":1,"ow":17},
{"age":2,"ow":10},{"age":2,"ow":11},{"age":2,"ow":12},{"age":2,"ow":13},{"age":2,"ow":14},{"age":2,"ow":15},{"age":2,"ow":16},{"age":2,"ow":17},{"age":2,"ow":18},{"age":2,"ow":19},{"age":2,"ow":20},{"age":2,"ow":21},{"age":2,"ow":22},{"age":2,"ow":23},{"age":2,"ow":26.4},
{"age":3,"ow":11},{"age":3,"ow":12},{"age":3,"ow":13},{"age":3,"ow":14},{"age":3,"ow":15},{"age":3,"ow":16},{"age":3,"ow":17},{"age":3,"ow":18},{"age":3,"ow":19},{"age":3,"ow":20},{"age":3,"ow":21},{"age":3,"ow":22},{"age":3,"ow":23},{"age":3,"ow":24},{"age":3,"ow":25},{"age":3,"ow":26},{"age":3,"ow":27},{"age":3,"ow":28},{"age":3,"ow":29},{"age":3,"ow":30},{"age":3,"ow":31},{"age":3,"ow":32},
{"age":4,"ow":13},{"age":4,"ow":14},{"age":4,"ow":15},{"age":4,"ow":16},{"age":4,"ow":17},{"age":4,"ow":18},{"age":4,"ow":19},{"age":4,"ow":20},{"age":4,"ow":21},{"age":4,"ow":22},{"age":4,"ow":23},{"age":4,"ow":24},{"age":4,"ow":25},{"age":4,"ow":26},{"age":4,"ow":27},{"age":4,"ow":28},{"age":4,"ow":29},{"age":4,"ow":30},{"age":4,"ow":31},{"age":4,"ow":32},{"age":4,"ow":33},{"age":4,"ow":34},{"age":4,"ow":35},{"age":4,"ow":36},{"age":4,"ow":37},{"age":4,"ow":38},{"age":4,"ow":39},
{"age":5,"ow":17},{"age":5,"ow":18},{"age":5,"ow":19},{"age":5,"ow":20},{"age":5,"ow":21},{"age":5,"ow":22},{"age":5,"ow":23},{"age":5,"ow":24},{"age":5,"ow":25},{"age":5,"ow":26},{"age":5,"ow":27},{"age":5,"ow":28},{"age":5,"ow":29},{"age":5,"ow":30},{"age":5,"ow":31},{"age":5,"ow":32},{"age":5,"ow":33},{"age":5,"ow":34},{"age":5,"ow":35},{"age":5,"ow":36},{"age":5,"ow":37},{"age":5,"ow":38},{"age":5,"ow":39},{"age":5,"ow":40},{"age":5,"ow":41},{"age":5,"ow":42},{"age":5,"ow":43},{"age":5,"ow":44},
{"age":6,"ow":21},{"age":6,"ow":22},{"age":6,"ow":23},{"age":6,"ow":24},{"age":6,"ow":25},{"age":6,"ow":26},{"age":6,"ow":27},{"age":6,"ow":28},{"age":6,"ow":29},{"age":6,"ow":30},{"age":6,"ow":31},{"age":6,"ow":32},{"age":6,"ow":33},{"age":6,"ow":34},{"age":6,"ow":35},{"age":6,"ow":36},{"age":6,"ow":37},{"age":6,"ow":38},{"age":6,"ow":39},{"age":6,"ow":40},{"age":6,"ow":41},{"age":6,"ow":42},{"age":6,"ow":43},{"age":6,"ow":44},{"age":6,"ow":45},{"age":6,"ow":46},{"age":6,"ow":47},{"age":6,"ow":48},{"age":6,"ow":49},{"age":6,"ow":50},
{"age":7,"ow":25},{"age":7,"ow":26},{"age":7,"ow":27},{"age":7,"ow":28},{"age":7,"ow":29},{"age":7,"ow":30},{"age":7,"ow":31},{"age":7,"ow":32},{"age":7,"ow":33},{"age":7,"ow":34},{"age":7,"ow":35},{"age":7,"ow":36},{"age":7,"ow":37},{"age":7,"ow":38},{"age":7,"ow":39},{"age":7,"ow":40},{"age":7,"ow":41},{"age":7,"ow":42},{"age":7,"ow":43},{"age":7,"ow":44},{"age":7,"ow":45},{"age":7,"ow":46},{"age":7,"ow":47},{"age":7,"ow":48},{"age":7,"ow":49},{"age":7,"ow":51.3},{"age":7,"ow":54.4},
{"age":8,"ow":28},{"age":8,"ow":29},{"age":8,"ow":30},{"age":8,"ow":31},{"age":8,"ow":32},{"age":8,"ow":33},{"age":8,"ow":34},{"age":8,"ow":35},{"age":8,"ow":36},{"age":8,"ow":37},{"age":8,"ow":38},{"age":8,"ow":39},{"age":8,"ow":40},{"age":8,"ow":41},{"age":8,"ow":42},{"age":8,"ow":43},{"age":8,"ow":44},{"age":8,"ow":45},{"age":8,"ow":46},{"age":8,"ow":47},{"age":8,"ow":48},{"age":8,"ow":49},{"age":8,"ow":53.1},
{"age":9,"ow":29},{"age":9,"ow":30},{"age":9,"ow":31},{"age":9,"ow":32},{"age":9,"ow":33},{"age":9,"ow":34},{"age":9,"ow":35},{"age":9,"ow":36},{"age":9,"ow":37},{"age":9,"ow":38},{"age":9,"ow":39},{"age":9,"ow":40},{"age":9,"ow":41},{"age":9,"ow":42},{"age":9,"ow":43},{"age":9,"ow":44},{"age":9,"ow":45},{"age":9,"ow":46},{"age":9,"ow":47},{"age":9,"ow":48},{"age":9,"ow":49},{"age":9,"ow":50},{"age":9,"ow":52.5},{"age":9,"ow":54.4},
{"age":10,"ow":32.9},{"age":10,"ow":36.8},{"age":10,"ow":38.5},{"age":10,"ow":40},{"age":10,"ow":41.6},{"age":10,"ow":43},{"age":10,"ow":44},{"age":10,"ow":45.5},{"age":10,"ow":47},{"age":10,"ow":48.5},{"age":10,"ow":52},{"age":10,"ow":54.8},
{"age":11,"ow":36.8},{"age":11,"ow":39.2},{"age":11,"ow":42},{"age":11,"ow":48.2},{"age":11,"ow":52.4},
{"age":12,"ow":39.2},{"age":12,"ow":42},{"age":12,"ow":50.3},
{"age":13,"ow":44.7},{"age":13,"ow":46.8}]
},
"concat":[
{"width":383,"height":288,"title":{"text":"Male","dx":-7},
"resolve":{"axis":{"x":"independent","y":"independent"}},
"layer":[
{"data":{"name":"m1"},"mark":{"type":"circle","size":50,"color":"black","opacity":1},
"encoding":{"x":{"field":"age","type":"quantitative","scale":{"domain":[0,15],"nice":false},"axis":{"title":"Age (years)","orient":"bottom","values":[0,5,10,15],"tickSize":8}},
"y":{"field":"fl","type":"quantitative","scale":{"domain":[0,45],"nice":false},"axis":{"title":"Fork length (cm)","orient":"left","values":[0,10,20,30,40],"tickSize":8}}}},
{"data":{"name":"mc"},"mark":{"type":"line","color":"black","strokeWidth":2.5},"encoding":{"x":{"field":"age","type":"quantitative","axis":{"orient":"bottom","title":null,"labels":false,"domain":false,"values":[1,2,3,4,6,7,8,9,11,12,13,14],"tickSize":4}},"y":{"field":"fl","type":"quantitative","axis":{"orient":"left","title":null,"labels":false,"domain":false,"values":[5,15,25,35,45],"tickSize":5}}}},
{"data":{"values":[{"fl":25}]},"mark":{"type":"rule","color":"black","strokeWidth":2.5},"encoding":{"y":{"field":"fl","type":"quantitative","axis":null}}},
{"data":{"values":[{"age":1.4,"fl":6.9,"t":"r = 0.42"}]},"mark":{"type":"text","fontSize":26,"fontWeight":"bold","align":"left","baseline":"middle","color":"black"},"encoding":{"x":{"field":"age","type":"quantitative","axis":null},"y":{"field":"fl","type":"quantitative","axis":null},"text":{"field":"t"}}},
{"data":{"values":[{"age":14.6,"fl":21.5,"t":"MLL"}]},"mark":{"type":"text","fontSize":25,"align":"right","baseline":"middle","color":"black"},"encoding":{"x":{"field":"age","type":"quantitative","axis":null},"y":{"field":"fl","type":"quantitative","axis":null},"text":{"field":"t"}}}
]},
{"width":383,"height":288,"title":{"text":"Female","dx":-13},
"resolve":{"axis":{"x":"independent","y":"independent"}},
"layer":[
{"data":{"name":"f1"},"mark":{"type":"circle","size":50,"color":"black","opacity":1},
"encoding":{"x":{"field":"age","type":"quantitative","scale":{"domain":[0,15],"nice":false},"axis":{"title":"Age (years)","orient":"bottom","values":[0,5,10,15],"tickSize":8}},
"y":{"field":"fl","type":"quantitative","scale":{"domain":[0,45],"nice":false},"axis":{"title":"Fork length (cm)","orient":"left","values":[0,10,20,30,40],"tickSize":8}}}},
{"data":{"name":"fc"},"mark":{"type":"line","color":"black","strokeWidth":2.5},"encoding":{"x":{"field":"age","type":"quantitative","axis":{"orient":"bottom","title":null,"labels":false,"domain":false,"values":[1,2,3,4,6,7,8,9,11,12,13,14],"tickSize":4}},"y":{"field":"fl","type":"quantitative","axis":{"orient":"left","title":null,"labels":false,"domain":false,"values":[5,15,25,35,45],"tickSize":5}}}},
{"data":{"values":[{"fl":25}]},"mark":{"type":"rule","color":"black","strokeWidth":2.5},"encoding":{"y":{"field":"fl","type":"quantitative","axis":null}}},
{"data":{"values":[{"age":1.3,"fl":5.6,"t":"r = 0.53"}]},"mark":{"type":"text","fontSize":26,"fontWeight":"bold","align":"left","baseline":"middle","color":"black"},"encoding":{"x":{"field":"age","type":"quantitative","axis":null},"y":{"field":"fl","type":"quantitative","axis":null},"text":{"field":"t"}}},
{"data":{"values":[{"age":14.6,"fl":21.5,"t":"MLL"}]},"mark":{"type":"text","fontSize":25,"align":"right","baseline":"middle","color":"black"},"encoding":{"x":{"field":"age","type":"quantitative","axis":null},"y":{"field":"fl","type":"quantitative","axis":null},"text":{"field":"t"}}}
]},
{"width":383,"height":288,
"resolve":{"axis":{"x":"independent","y":"independent"}},
"layer":[
{"data":{"name":"m2"},"mark":{"type":"circle","size":50,"color":"black","opacity":1},
"encoding":{"x":{"field":"fl","type":"quantitative","scale":{"domain":[20,40],"nice":false,"zero":false},"axis":{"title":"Fork length (cm)","orient":"bottom","values":[20,25,30,35,40],"tickSize":8}},
"y":{"field":"ow","type":"quantitative","scale":{"domain":[0,60],"nice":false},"axis":{"title":"Otolith weight (mg)","orient":"left","values":[0,10,20,30,40,50,60],"tickSize":8}}}},
{"data":{"values":[{"fl":20,"ow":2.8},{"fl":40,"ow":52.4}]},"mark":{"type":"line","color":"black","strokeWidth":2.5},"encoding":{"x":{"field":"fl","type":"quantitative","axis":{"orient":"bottom","title":null,"labels":false,"domain":false,"values":[22.5,27.5,32.5,37.5],"tickSize":4}},"y":{"field":"ow","type":"quantitative","axis":{"orient":"left","title":null,"labels":false,"domain":false,"values":[5,15,25,35,45,55],"tickSize":5}}}},
{"data":{"values":[{"fl":21.98,"ow":51.7,"t":"r = 0.72"}]},"mark":{"type":"text","fontSize":26,"fontWeight":"bold","align":"left","baseline":"middle","color":"black"},"encoding":{"x":{"field":"fl","type":"quantitative","axis":null},"y":{"field":"ow","type":"quantitative","axis":null},"text":{"field":"t"}}}
]},
{"width":383,"height":288,
"resolve":{"axis":{"x":"independent","y":"independent"}},
"layer":[
{"data":{"name":"f2"},"mark":{"type":"circle","size":50,"color":"black","opacity":1},
"encoding":{"x":{"field":"fl","type":"quantitative","scale":{"domain":[20,40],"nice":false,"zero":false},"axis":{"title":"Fork length (cm)","orient":"bottom","values":[20,25,30,35,40],"tickSize":8}},
"y":{"field":"ow","type":"quantitative","scale":{"domain":[0,60],"nice":false},"axis":{"title":"Otolith weight (mg)","orient":"left","values":[0,10,20,30,40,50,60],"tickSize":8}}}},
{"data":{"values":[{"fl":20,"ow":2},{"fl":40,"ow":49}]},"mark":{"type":"line","color":"black","strokeWidth":2.5},"encoding":{"x":{"field":"fl","type":"quantitative","axis":{"orient":"bottom","title":null,"labels":false,"domain":false,"values":[22.5,27.5,32.5,37.5],"tickSize":4}},"y":{"field":"ow","type":"quantitative","axis":{"orient":"left","title":null,"labels":false,"domain":false,"values":[5,15,25,35,45,55],"tickSize":5}}}},
{"data":{"values":[{"fl":21.83,"ow":51.8,"t":"r = 0.82"}]},"mark":{"type":"text","fontSize":26,"fontWeight":"bold","align":"left","baseline":"middle","color":"black"},"encoding":{"x":{"field":"fl","type":"quantitative","axis":null},"y":{"field":"ow","type":"quantitative","axis":null},"text":{"field":"t"}}}
]},
{"width":383,"height":288,
"resolve":{"axis":{"x":"independent","y":"independent"}},
"layer":[
{"data":{"name":"m3"},"mark":{"type":"circle","size":50,"color":"black","opacity":1},
"encoding":{"x":{"field":"age","type":"quantitative","scale":{"domain":[0,15],"nice":false},"axis":{"title":"Age (years)","orient":"bottom","values":[0,5,10,15],"tickSize":8}},
"y":{"field":"ow","type":"quantitative","scale":{"domain":[0,60],"nice":false},"axis":{"title":"Otolith weight (mg)","orient":"left","values":[0,10,20,30,40,50,60],"tickSize":8}}}},
{"data":{"values":[{"age":0,"ow":8.7},{"age":15,"ow":54}]},"mark":{"type":"line","color":"black","strokeWidth":2.5},"encoding":{"x":{"field":"age","type":"quantitative","axis":{"orient":"bottom","title":null,"labels":false,"domain":false,"values":[1,2,3,4,6,7,8,9,11,12,13,14],"tickSize":4}},"y":{"field":"ow","type":"quantitative","axis":{"orient":"left","title":null,"labels":false,"domain":false,"values":[5,15,25,35,45,55],"tickSize":5}}}},
{"data":{"values":[{"age":1.45,"ow":50.8,"t":"r = 0.67"}]},"mark":{"type":"text","fontSize":26,"fontWeight":"bold","align":"left","baseline":"middle","color":"black"},"encoding":{"x":{"field":"age","type":"quantitative","axis":null},"y":{"field":"ow","type":"quantitative","axis":null},"text":{"field":"t"}}}
]},
{"width":383,"height":288,
"resolve":{"axis":{"x":"independent","y":"independent"}},
"layer":[
{"data":{"name":"f3"},"mark":{"type":"circle","size":50,"color":"black","opacity":1},
"encoding":{"x":{"field":"age","type":"quantitative","scale":{"domain":[0,15],"nice":false},"axis":{"title":"Age (years)","orient":"bottom","values":[0,5,10,15],"tickSize":8}},
"y":{"field":"ow","type":"quantitative","scale":{"domain":[0,60],"nice":false},"axis":{"title":"Otolith weight (mg)","orient":"left","values":[0,10,20,30,40,50,60],"tickSize":8}}}},
{"data":{"values":[{"age":0,"ow":7.6},{"age":15,"ow":59.7}]},"mark":{"type":"line","color":"black","strokeWidth":2.5},"encoding":{"x":{"field":"age","type":"quantitative","axis":{"orient":"bottom","title":null,"labels":false,"domain":false,"values":[1,2,3,4,6,7,8,9,11,12,13,14],"tickSize":4}},"y":{"field":"ow","type":"quantitative","axis":{"orient":"left","title":null,"labels":false,"domain":false,"values":[5,15,25,35,45,55],"tickSize":5}}}},
{"data":{"values":[{"age":1.45,"ow":51.3,"t":"r = 0.67"}]},"mark":{"type":"text","fontSize":26,"fontWeight":"bold","align":"left","baseline":"middle","color":"black"},"encoding":{"x":{"field":"age","type":"quantitative","axis":null},"y":{"field":"ow","type":"quantitative","axis":null},"text":{"field":"t"}}}
]}
]
}
